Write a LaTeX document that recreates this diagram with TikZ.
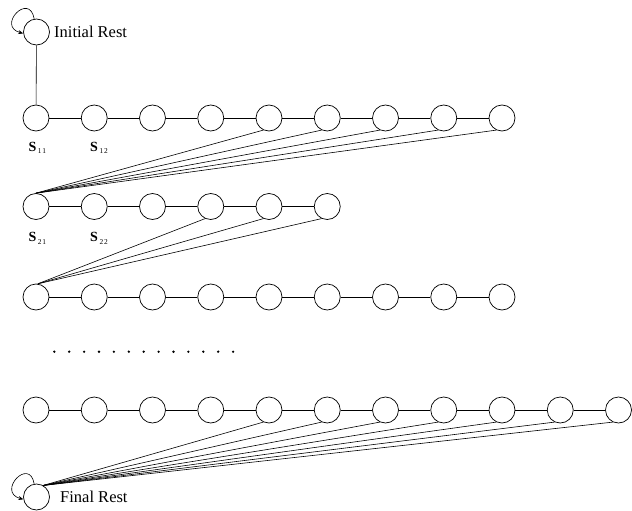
\documentclass[tikz,border=0pt]{standalone}
\usepackage{fontspec}
\setmainfont{Liberation Serif}
\usetikzlibrary{arrows.meta}

% state label: bold S with a small two-digit index set low
\newcommand\statelabel[2]{{\fontsize{14}{14}\selectfont\bfseries S}\kern1.6pt\raisebox{-2.3pt}{\fontsize{7.4}{8}\selectfont #1\kern0.9pt #2}}

\tikzset{
  st/.style={circle, draw, minimum size=26pt, inner sep=0pt, line width=0.7pt},
  link/.style={line width=0.6pt},
  selfloop/.style={line width=0.6pt, -{Stealth[length=5pt,width=4pt]}},
  restlbl/.style={font=\fontsize{16.5}{18}\selectfont, inner sep=0pt, anchor=base west},
  slbl/.style={inner sep=0pt, anchor=base west},
  dot/.style={circle, fill, inner sep=0pt, minimum size=2.6pt},
}

\begin{document}
\begin{tikzpicture}[x=1pt,y=1pt]
\useasboundingbox (0,0) rectangle (632,-511);

% initial rest state with its self-loop
\node[st] (ir) at (36.5,-32) {};
\node[restlbl] (irt) at (54,-38) {Initial Rest};
\draw[selfloop] (ir.100) .. controls +(100:28) and +(165:28) .. (ir.186);

% first row
\foreach \i in {0,...,8} \node[st] (a\i) at ({36+58.25*\i},-118) {};
\foreach \i [count=\j from 1] in {0,...,7} \draw[link] (a\i) -- (a\j);
\draw[link] (ir) -- (a0);

% second row
\foreach \i in {0,...,5} \node[st] (b\i) at ({36+58.25*\i},-206.5) {};
\foreach \i [count=\j from 1] in {0,...,4} \draw[link] (b\i) -- (b\j);
\foreach \i in {4,...,8} \draw[link] (a\i.245) -- (b0.north);

% third row
\foreach \i in {0,...,8} \node[st] (c\i) at ({36+58.25*\i},-297) {};
\foreach \i [count=\j from 1] in {0,...,7} \draw[link] (c\i) -- (c\j);
\foreach \i in {3,...,5} \draw[link] (b\i.245) -- (c0.82);

% ellipsis
\foreach \k in {0,...,12} \node[dot] (e\k) at ({54.3+14.9*\k},-351.7) {};

% last row
\foreach \i in {0,...,10} \node[st] (d\i) at ({36+58.25*\i},-410) {};
\foreach \i [count=\j from 1] in {0,...,9} \draw[link] (d\i) -- (d\j);

% final rest state with its self-loop
\node[st] (fr) at (36.5,-497) {};
\node[restlbl] (frt) at (60,-502) {Final Rest};
\draw[selfloop] (fr.100) .. controls +(100:28) and +(165:28) .. (fr.190);
\foreach \i in {4,...,10} \draw[link] (d\i.245) -- (fr.60);

% state names
\node[slbl] (s11) at (28.3,-151) {\statelabel{1}{1}};
\node[slbl] (s12) at (90,-151) {\statelabel{1}{2}};
\node[slbl] (s21) at (28.3,-241.7) {\statelabel{2}{1}};
\node[slbl] (s22) at (90,-241.7) {\statelabel{2}{2}};
\end{tikzpicture}
\end{document}
